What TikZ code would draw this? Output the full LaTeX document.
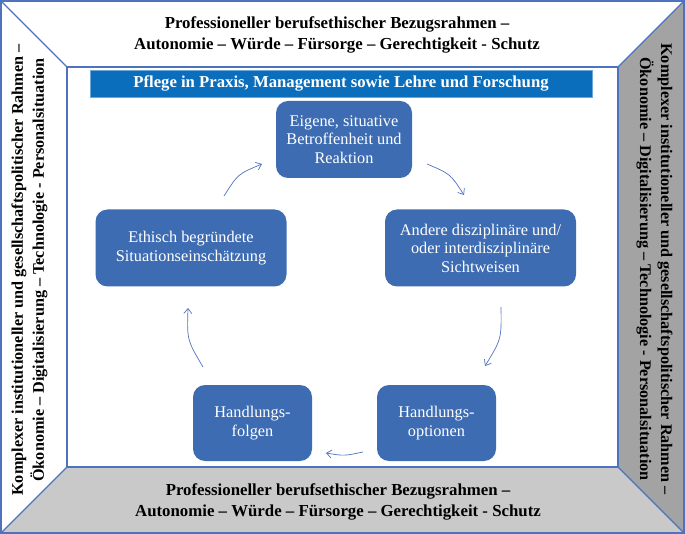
\documentclass[tikz,border=0pt]{standalone}
\usepackage{fontspec}
\setmainfont{Liberation Serif}
\usetikzlibrary{arrows.meta}
\definecolor{lineblue}{RGB}{79,114,190}
\definecolor{nodeblue}{RGB}{61,108,178}
\definecolor{headblue}{RGB}{10,110,189}
\definecolor{rightgrey}{RGB}{163,163,163}
\definecolor{bottomgrey}{RGB}{201,201,201}
\tikzset{
  frameline/.style={draw=lineblue, line width=1.1pt},
  stepbox/.style={fill=nodeblue, rounded corners=12pt, text=white, align=center,
    font=\fontsize{16.3}{18.5}\selectfont, inner sep=0pt},
  titletext/.style={font=\bfseries\fontsize{16.8}{21}\selectfont, align=center, text=black, inner sep=0pt},
  sidetext/.style={font=\bfseries\fontsize{16.2}{21}\selectfont, align=center, text=black, inner sep=0pt},
  headbox/.style={fill=headblue, draw=headblue!60!white, line width=0.4pt, text=white,
    font=\bfseries\fontsize{16.7}{20}\selectfont, inner sep=0pt},
  arr/.style={draw=lineblue, line width=0.7pt, -{Straight Barb[length=5pt,width=8pt]}}
}
\begin{document}
\begin{tikzpicture}[x=1pt,y=-1pt]
\useasboundingbox (0,0) rectangle (685,534);
% frame geometry
\coordinate (O1) at (1,1);
\coordinate (O2) at (684,1);
\coordinate (O3) at (684,533);
\coordinate (O4) at (1,533);
\coordinate (I1) at (67,67);
\coordinate (I2) at (618,67);
\coordinate (I3) at (618,467);
\coordinate (I4) at (67,467);
\fill[rightgrey] (O2) -- (O3) -- (I3) -- (I2) -- cycle;
\fill[bottomgrey] (O4) -- (O3) -- (I3) -- (I4) -- cycle;
\draw[frameline] (O1) rectangle (O3);
\draw[frameline] (I1) rectangle (I3);
\draw[frameline] (O1) -- (I1);
\draw[frameline] (O2) -- (I2);
\draw[frameline] (O3) -- (I3);
\draw[frameline] (O4) -- (I4);
% frame texts
\node[titletext] (toptitle) at (337,35) {Professioneller berufsethischer Bezugsrahmen –\\Autonomie – Würde – Fürsorge – Gerechtigkeit - Schutz};
\node[titletext] (bottitle) at (338,502) {Professioneller berufsethischer Bezugsrahmen –\\Autonomie – Würde – Fürsorge – Gerechtigkeit - Schutz};
\node[sidetext, rotate=90] (lefttitle) at (29.5,270) {Komplexer institutioneller und gesellschaftspolitischer Rahmen –\\Ökonomie – Digitalisierung – Technologie - Personalsituation};
\node[sidetext, rotate=-90] (righttitle) at (654.5,269) {Komplexer institutioneller und gesellschaftspolitischer Rahmen –\\Ökonomie – Digitalisierung – Technologie - Personalsituation};
% header
\node[headbox, minimum width=502pt, minimum height=27pt] (head) at (341,83.5) {Pflege in Praxis, Management sowie Lehre und Forschung};
% cycle boxes
\node[stepbox, minimum width=136pt, minimum height=77pt] (top) at (344,139.5) {Eigene, situative\\Betroffenheit und\\Reaktion};
\node[stepbox, minimum width=191pt, minimum height=77pt] (right) at (480.5,248) {Andere disziplinäre und/\\oder interdisziplinäre\\Sichtweisen};
\node[stepbox, minimum width=191pt, minimum height=77pt] (left) at (191,248) {Ethisch begründete\\Situationseinschätzung};
\node[stepbox, minimum width=119pt, minimum height=76pt] (optionen) at (436.5,423) {Handlungs-\\optionen};
\node[stepbox, minimum width=119pt, minimum height=76pt] (folgen) at (252.5,423) {Handlungs-\\folgen};
% arrow end points
\coordinate (a1s) at (224,196);
\coordinate (a1e) at (262,164);
\coordinate (a2s) at (427,164);
\coordinate (a2e) at (464,195);
\coordinate (a3s) at (501,307);
\coordinate (a3e) at (485,366);
\coordinate (a4s) at (363,452);
\coordinate (a4e) at (326,453);
\coordinate (a5s) at (203,367);
\coordinate (a5e) at (188,308);
\draw[arr] (a1s) .. controls (238,174) .. (a1e);
\draw[arr] (a2s) .. controls (450.5,174) .. (a2e);
\draw[arr] (a3s) .. controls (501.5,339) .. (a3e);
\draw[arr] (a4s) .. controls (344,456) .. (a4e);
\draw[arr] (a5s) .. controls (187,340) .. (a5e);
\end{tikzpicture}
\end{document}
